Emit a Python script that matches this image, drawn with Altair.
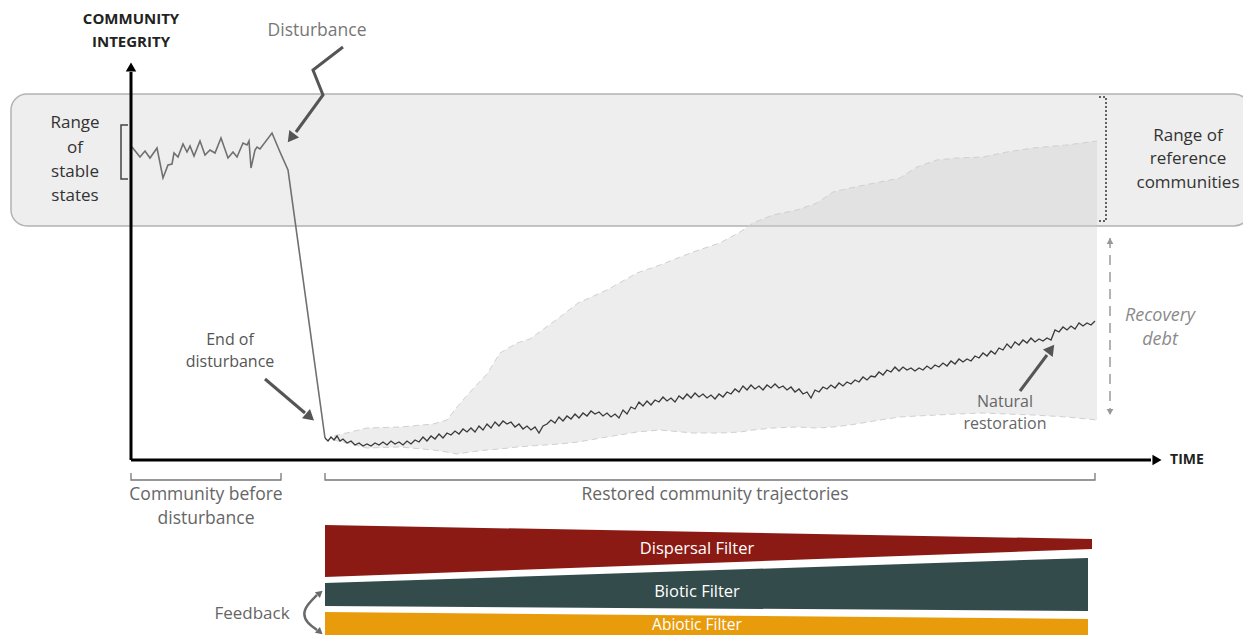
import altair as alt
import pandas as pd

# Units: t = time (axis origin 0), v = community integrity (axis origin 0)

# Community before disturbance (noisy stable state) then disturbance collapse
pre_t = [1, 9, 14, 19, 26, 32, 37, 41, 43, 47, 52, 56, 59, 63, 69, 74, 79, 84, 90, 97,
         102, 106, 112, 116, 118, 120, 124, 126, 129, 141, 149, 157, 194]
pre_v = [313, 303, 309, 302, 312, 282, 295, 296, 307, 303, 316, 308, 314, 304, 319, 305, 310, 307, 322, 302,
         308, 303, 317, 315, 319, 292, 310, 313, 311, 327, 308, 290, 22]

# Natural restoration trajectory
restored = [
    (194, 22), (197, 19), (200, 23), (203, 20), (206, 24), (209, 19), (212, 21), (216, 17), (220, 19), (224, 15),
    (228, 17), (232, 14), (236, 16), (240, 14), (244, 17), (248, 15), (252, 18), (256, 15), (260, 19), (264, 16),
    (268, 18), (272, 15), (276, 19), (280, 16), (284, 20), (288, 18), (292, 23), (296, 19), (300, 24), (304, 21),
    (308, 26), (312, 22), (316, 27), (320, 25), (324, 29), (328, 26), (332, 31), (336, 28), (340, 32), (344, 28),
    (348, 34), (352, 30), (356, 36), (360, 32), (364, 38), (368, 34), (372, 39), (376, 36), (380, 38), (384, 33),
    (388, 36), (392, 31), (396, 34), (400, 30), (404, 33), (408, 27), (412, 34), (416, 36), (420, 40), (424, 37),
    (428, 43), (432, 39), (436, 44), (440, 41), (444, 46), (448, 42), (452, 47), (456, 44), (460, 49), (464, 46),
    (468, 48), (472, 44), (476, 47), (480, 43), (484, 46), (488, 42), (492, 50), (496, 46), (500, 53), (504, 51),
    (508, 58), (512, 54), (516, 59), (520, 55), (524, 60), (528, 58), (532, 63), (536, 59), (540, 62), (544, 58),
    (548, 64), (552, 61), (556, 66), (560, 62), (564, 67), (568, 63), (572, 66), (576, 62), (580, 65), (584, 61),
    (588, 66), (592, 63), (596, 68), (600, 66), (604, 71), (608, 68), (612, 74), (616, 70), (620, 75), (624, 71),
    (628, 74), (632, 70), (636, 75), (640, 72), (644, 76), (648, 72), (652, 74), (656, 70), (660, 73), (664, 68),
    (668, 71), (672, 66), (676, 68), (680, 62), (684, 70), (688, 68), (692, 73), (696, 71), (700, 75), (704, 72),
    (708, 77), (712, 74), (716, 78), (720, 76), (724, 80), (728, 78), (732, 83), (736, 80), (740, 84), (744, 83),
    (748, 88), (752, 85), (756, 90), (760, 88), (764, 93), (768, 89), (772, 93), (776, 90), (780, 92), (784, 89),
    (788, 92), (792, 90), (796, 94), (800, 91), (804, 95), (808, 93), (812, 97), (816, 94), (820, 99), (824, 96),
    (828, 101), (832, 98), (836, 101), (840, 99), (844, 104), (848, 102), (852, 107), (856, 104), (860, 109), (864, 106),
    (868, 112), (872, 110), (876, 116), (880, 112), (884, 118), (888, 115), (892, 120), (896, 117), (900, 122), (904, 118),
    (908, 121), (912, 119), (916, 122), (920, 120), (924, 130), (928, 128), (932, 133), (936, 130), (940, 134), (944, 131),
    (948, 137), (952, 134), (956, 137), (960, 135), (964, 139),
]

# Envelope of restored community trajectories
env_t = [203, 236, 269, 302, 316, 326, 339, 356, 369, 386, 399, 414, 429, 447, 476, 506, 529, 562, 589, 609,
         622, 642, 666, 686, 702, 719, 749, 769, 786, 806, 826, 852, 876, 902, 936, 966]
env_hi = [24, 32, 33, 36, 40, 53, 68, 86, 107, 117, 121, 132, 143, 157, 170, 187, 195, 208, 217, 228,
          237, 245, 250, 257, 268, 272, 278, 282, 293, 300, 302, 303, 308, 312, 315, 319]
env_lo = [20, 12, 13, 10, 8, 6, 8, 10, 11, 13, 14, 15, 16, 18, 23, 28, 30, 27, 27, 28,
          30, 32, 33, 32, 33, 35, 40, 43, 44, 45, 46, 47, 46, 45, 43, 40]

# Range of reference communities (band)
band_t = [-120, 1119]
band_v = [234, 366]

# Assembly filters: (t_left, t_right), (top_left, top_right), (bottom_left, bottom_right)
filter_names = ["Dispersal Filter", "Biotic Filter", "Abiotic Filter"]
filter_colors = ["#8b1a14", "#344b4b", "#e89c0c"]
filter_t = [[194, 961], [194, 957], [194, 957]]
filter_top = [[-65, -79], [-123, -98], [-152, -159]]
filter_bot = [[-117, -89], [-146, -151], [-182, -176]]

# Arrows (polylines) : name -> points
arrows = {
    "disturbance": [(212, 413), (182, 390), (192, 365), (165, 328)],
    "end": [(134, 81), (174, 47)],
    "natural": [(889, 69), (916, 105)],
}
arrow_heads = [  # t, v, angle, size, color
    (160, 322, 217, 150, "#555555"),
    (179, 43, 131, 150, "#555555"),
    (920, 111, 37, 150, "#555555"),
    (0, 393, 0, 110, "#000000"),
    (1026, 0, 90, 110, "#000000"),
    (979, 219, 0, 45, "#999999"),
    (979, 48, 180, 45, "#999999"),
    (189, -133, 50, 60, "#6a6a6a"),
    (189, -172, 130, 60, "#6a6a6a"),
]

axes_lines = {"y": [(0, 0), (0, 388)], "x": [(0, 0), (1020, 0)]}
brackets = {
    "stable": [(-3, 335), (-10, 335), (-10, 281), (-3, 281)],
    "before": [(0, -13), (0, -20), (150, -20), (150, -13)],
    "restored": [(194, -13), (194, -20), (964, -20), (964, -13)],
}
ref_bracket = [(968, 363), (975, 363), (975, 239), (968, 239)]
debt_line = [(979, 222), (979, 46)]
feedback_curve = [(186, -135), (176, -145), (172, -154), (176, -163), (186, -170)]

texts = [  # t, v, text, size, color
    (-56, 337, "Range", 17, "#333333"), (-56, 312, "of", 17, "#333333"),
    (-56, 288, "stable", 17, "#333333"), (-56, 264, "states", 17, "#333333"),
    (186, 429, "Disturbance", 17.5, "#777777"),
    (99, 120, "End of", 16, "#555555"), (99, 98, "disturbance", 16, "#555555"),
    (874, 58, "Natural", 16, "#666666"), (874, 36, "restoration", 16, "#666666"),
    (1057, 324, "Range of", 17, "#333333"), (1057, 301, "reference", 17, "#333333"),
    (1057, 277, "communities", 17, "#333333"),
    (75, -35, "Community before", 17.5, "#666666"), (75, -59, "disturbance", 17.5, "#666666"),
    (584, -35, "Restored community trajectories", 17.5, "#666666"),
    (121, -154, "Feedback", 17, "#666666"),
]
bold_texts = [(0, 441, "COMMUNITY", 15), (0, 418, "INTEGRITY", 15), (1056, 0, "TIME", 14)]
italic_texts = [(1029, 144, "Recovery"), (1029, 120, "debt")]
filter_label_t = 566
filter_label_v = [-89, -132, -165]
filter_label_size = [16.5, 16.5, 15.5]

FONT = "Open Sans"
xs = alt.Scale(domain=[-123, 1112], nice=False, zero=False)
ys = alt.Scale(domain=[-175, 452], nice=False, zero=False)


def X(f="t"):
    return alt.X(f"{f}:Q", scale=xs, axis=None)


def Y(f="v"):
    return alt.Y(f"{f}:Q", scale=ys, axis=None)


def poly_df(d):
    rows = []
    for k, pts in d.items():
        for i, (t, v) in enumerate(pts):
            rows.append({"seg": k, "i": i, "t": t, "v": v})
    return pd.DataFrame(rows)


def poly_layer(d, **mk):
    return alt.Chart(poly_df(d)).mark_line(**mk).encode(
        x=X(), y=Y(), detail="seg:N", order="i:Q")


band_df = pd.DataFrame({"t": [band_t[0]], "t2": [band_t[1]], "v": [band_v[0]], "v2": [band_v[1]]})
band = alt.Chart(band_df).mark_rect(cornerRadius=16, fill="#eeeeee", stroke="#b3b3b3", strokeWidth=1.5).encode(
    x=X(), x2=alt.X2("t2:Q"), y=Y(), y2=alt.Y2("v2:Q"))

env_df = pd.DataFrame({"t": env_t, "hi": env_hi, "lo": env_lo})
env = alt.Chart(env_df).mark_area(color="rgb(205,205,205)", opacity=0.36).encode(
    x=X(), y=Y("hi"), y2=alt.Y2("lo:Q"))
env_edges = alt.Chart(env_df).transform_fold(["hi", "lo"], as_=["edge", "val"]).mark_line(
    color="#d0d0d0", strokeWidth=1, strokeDash=[6, 4]).encode(
    x=X(), y=Y("val"), detail="edge:N")

pre = alt.Chart(pd.DataFrame({"t": pre_t, "v": pre_v})).mark_line(color="#707070", strokeWidth=1.6).encode(
    x=X(), y=Y())
rest = alt.Chart(pd.DataFrame(restored, columns=["t", "v"])).mark_line(
    color="#3a3a3a", strokeWidth=1.3).encode(x=X(), y=Y())

axes = poly_layer(axes_lines, color="#000000", strokeWidth=3)
arrow_lines = poly_layer(arrows, color="#555555", strokeWidth=3)
brk = poly_layer({"stable": brackets["stable"]}, color="#444444", strokeWidth=1.5)
brk_low = poly_layer({k: brackets[k] for k in ["before", "restored"]}, color="#777777", strokeWidth=1.3)
refb = poly_layer({"ref": ref_bracket}, color="#333333", strokeWidth=1.5, strokeDash=[2, 2])
debt = poly_layer({"debt": debt_line}, color="#9a9a9a", strokeWidth=1.5, strokeDash=[10, 7])
feedback = poly_layer({"fb": feedback_curve}, color="#6a6a6a", strokeWidth=2.5, interpolate="basis")

heads_df = pd.DataFrame(arrow_heads, columns=["t", "v", "angle", "size", "color"])
heads = alt.Chart(heads_df).mark_point(shape="triangle-up", filled=True, opacity=1).encode(
    x=X(), y=Y(), angle=alt.Angle("angle:Q", scale=None), size=alt.Size("size:Q", scale=None),
    color=alt.Color("color:N", scale=None))

frows = []
for n, tt, tp, bt in zip(filter_names, filter_t, filter_top, filter_bot):
    for i in range(2):
        frows.append({"filter": n, "t": tt[i], "top": tp[i], "bot": bt[i]})
filt = alt.Chart(pd.DataFrame(frows)).mark_area(opacity=1).encode(
    x=X(), y=Y("top"), y2=alt.Y2("bot:Q"),
    color=alt.Color("filter:N", scale=alt.Scale(domain=filter_names, range=filter_colors), legend=None),
    detail="filter:N")
filt_txt = alt.Chart(pd.DataFrame({"t": [filter_label_t] * 3, "v": filter_label_v, "text": filter_names,
                                   "size": filter_label_size})).mark_text(
    font=FONT, color="white", align="center", baseline="middle").encode(
    x=X(), y=Y(), text="text:N", size=alt.Size("size:Q", scale=None))

txt = alt.Chart(pd.DataFrame(texts, columns=["t", "v", "text", "size", "color"])).mark_text(
    font=FONT, align="center", baseline="middle").encode(
    x=X(), y=Y(), text="text:N", size=alt.Size("size:Q", scale=None), color=alt.Color("color:N", scale=None))
btxt = alt.Chart(pd.DataFrame(bold_texts, columns=["t", "v", "text", "size"])).mark_text(
    font=FONT, fontWeight="bold", color="#222222", align="center", baseline="middle").encode(
    x=X(), y=Y(), text="text:N", size=alt.Size("size:Q", scale=None))
itxt = alt.Chart(pd.DataFrame(italic_texts, columns=["t", "v", "text"])).mark_text(
    font=FONT, fontStyle="italic", fontSize=18, color="#8a8a8a", align="center", baseline="middle").encode(
    x=X(), y=Y(), text="text:N")

chart = alt.layer(
    band, env, env_edges, pre, rest, brk, brk_low, refb, debt, axes, arrow_lines, feedback, heads,
    filt, filt_txt, txt, btxt, itxt,
).properties(
    width=1235, height=627, padding=0,
    autosize=alt.AutoSizeParams(type="none"),
).configure_view(stroke=None)

chart.save("out.html", embed_options={"renderer": "svg", "actions": False})
